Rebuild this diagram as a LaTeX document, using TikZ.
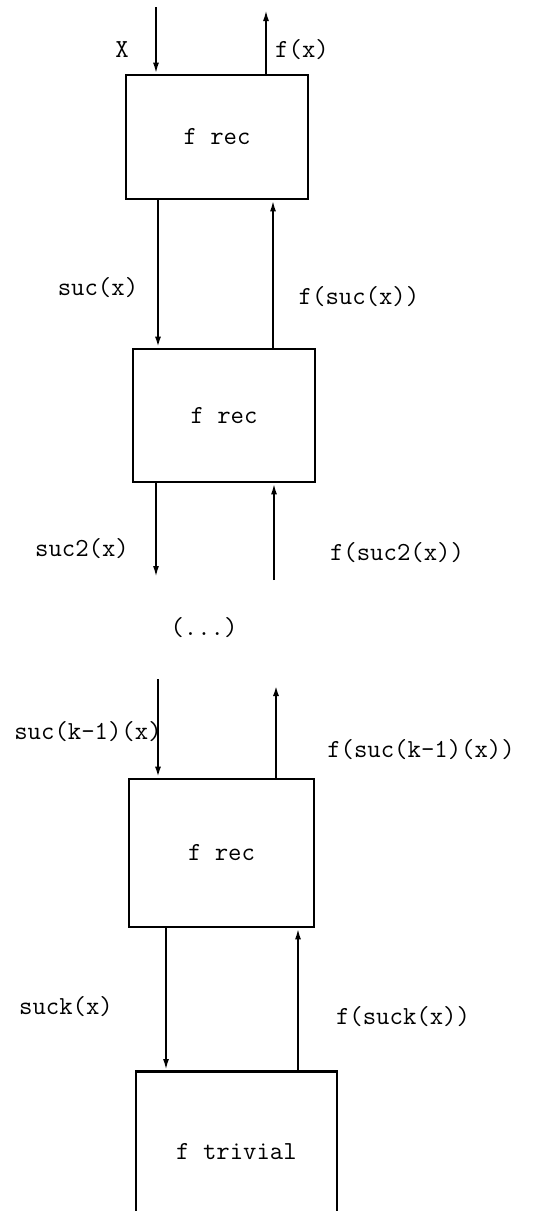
\documentclass[tikz,border=0pt]{standalone}
\usetikzlibrary{arrows.meta}
\tikzset{
  fbox/.style={draw, line width=1.4pt, inner sep=0pt},
  flow/.style={-{Latex[length=5.5pt,width=3pt]}, line width=0.95pt},
}
\begin{document}
\begin{tikzpicture}[x=0.5pt,y=-0.5pt,font=\ttfamily\fontsize{13}{15}\selectfont]
      \useasboundingbox (0,0) rectangle (540,1211);
      \draw
        (217,137) node[fbox,minimum width=91pt,minimum height=62pt] (rec1){f rec}
        (224,415.5) node[fbox,minimum width=91pt,minimum height=66.5pt] (rec2){f rec}
        (221.5,853) node[fbox,minimum width=92.5pt,minimum height=74pt] (rec3){f rec}
        (236.5,1070) node[fbox,anchor=north,minimum width=100.5pt,minimum height=80pt] (triv){f trivial};
      % labels
      \draw
        (122,50) node (lx){X}
        (302,50) node (lfx){f(x)}
        (98,288) node (ls1){suc(x)}
        (359,297) node (lfs1){f(suc(x))}
        (82,549) node (ls2){suc2(x)}
        (397,553) node (lfs2){f(suc2(x))}
        (204,628) node (ldots){(...)}
        (88,732) node (lsk1){suc(k-1)(x)}
        (421,750) node (lfsk1){f(suc(k-1)(x))}
        (66,1007) node (lsk){suck(x)}
        (403,1017) node (lfsk){f(suck(x))};
      % loose ends
      \coordinate (xin) at (156,7);
      \coordinate (fxout) at (266,10);
      \coordinate (s2out) at (156,577);
      \coordinate (fs2in) at (274,580);
      \coordinate (sk1in) at (158,679);
      \coordinate (fsk1out) at (276,685);
      \begin{scope}[flow]
        \draw (xin) to (rec1.north -| xin);
        \draw (rec1.north -| fxout) to (fxout);
        \draw[line width=1.3pt] (rec1.south -| 158,0) to (rec2.north -| 158,0);
        \draw (rec2.north -| 273,0) to (rec1.south -| 273,0);
        \draw (rec2.south -| s2out) to (s2out);
        \draw (fs2in) to (rec2.south -| fs2in);
        \draw[line width=1.3pt] (sk1in) to (rec3.north -| sk1in);
        \draw[line width=1.3pt] (rec3.north -| fsk1out) to (fsk1out);
        \draw (rec3.south -| 166,0) to (triv.north -| 166,0);
        \draw (triv.north -| 298,0) to (rec3.south -| 298,0);
      \end{scope}
    \end{tikzpicture}
\end{document}
